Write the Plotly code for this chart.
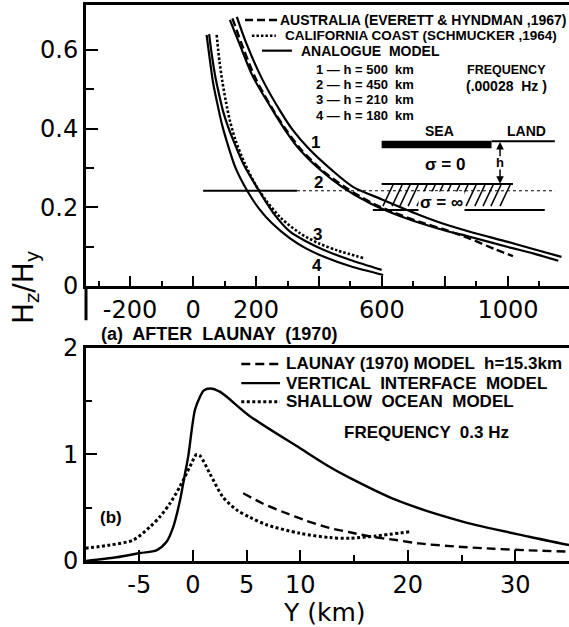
import plotly.graph_objects as go

# ---------------- data: panel (a) ----------------
c1_x = [139, 170, 220, 278, 317, 371, 440, 508, 600, 721, 800, 879, 1000, 1080, 1170]
c1_y = [0.684, 0.615, 0.525, 0.443, 0.396, 0.346, 0.295, 0.252, 0.22, 0.18, 0.157, 0.138, 0.112, 0.094, 0.074]
c2_x = [117, 149, 190, 254, 292, 333, 400, 473, 562, 640, 721, 800, 879, 1000, 1080, 1160]
c2_y = [0.676, 0.612, 0.532, 0.445, 0.397, 0.352, 0.298, 0.252, 0.21, 0.183, 0.16, 0.141, 0.125, 0.099, 0.083, 0.064]
aus_x = [125, 160, 200, 260, 300, 345, 410, 485, 570, 640, 720, 800, 880, 960, 1016]
aus_y = [0.68, 0.603, 0.525, 0.44, 0.392, 0.345, 0.294, 0.25, 0.21, 0.186, 0.163, 0.143, 0.12, 0.093, 0.076]
c3_x = [51, 60, 70, 79, 95, 111, 128, 160, 215, 260, 308, 360, 414, 500, 599]
c3_y = [0.64, 0.585, 0.535, 0.5, 0.445, 0.405, 0.37, 0.31, 0.235, 0.18, 0.138, 0.113, 0.092, 0.066, 0.041]
c4_x = [43, 55, 64, 78, 92, 110, 135, 172, 210, 250, 308, 360, 414, 500, 604]
c4_y = [0.638, 0.565, 0.515, 0.46, 0.41, 0.36, 0.30, 0.242, 0.196, 0.16, 0.121, 0.095, 0.075, 0.05, 0.028]
cal_x = [75, 84, 93, 104, 117, 135, 165, 200, 234, 280, 340, 400, 460, 540]
cal_y = [0.638, 0.57, 0.52, 0.47, 0.42, 0.37, 0.31, 0.255, 0.215, 0.172, 0.134, 0.108, 0.09, 0.071]

top_xticks = [-200, 0, 200, 600, 1000]
top_xtext = ["-200", "0", "200", "600", "1000"]
top_xticks_unlabelled = [400, 800]
top_yticks = [0, 0.2, 0.4, 0.6]
top_ytext = ["0", "0.2", "0.4", "0.6"]

# ---------------- data: panel (b) ----------------
vi_x = [-10, -7.1, -4.9, -3.4, -2.45, -1.83, -1.2, -0.74, -0.44, 0.19, 0.65, 1.0, 1.58, 2.5, 5.3, 9.95, 12.7, 14.6, 18.9, 25.1, 31.3, 35]
vi_y = [0.0, 0.035, 0.075, 0.10, 0.18, 0.32, 0.57, 0.82, 0.98, 1.42, 1.54, 1.6, 1.62, 1.59, 1.36, 1.06, 0.885, 0.78, 0.573, 0.37, 0.228, 0.15]
so_x = [-10, -7.7, -5.55, -4, -3.07, -2.14, -1.2, -0.28, 0.34, 0.65, 1.58, 2.8, 4.07, 5.3, 6.86, 9.95, 12.7, 14.6, 17, 20.2]
so_y = [0.12, 0.15, 0.197, 0.32, 0.416, 0.54, 0.70, 0.885, 1.0, 0.99, 0.82, 0.60, 0.48, 0.41, 0.34, 0.26, 0.22, 0.213, 0.235, 0.275]
la_x = [4.68, 6.5, 8.4, 10.5, 12.7, 14.6, 16.5, 18.9, 21, 25.1, 28, 31.3, 35]
la_y = [0.636, 0.54, 0.46, 0.38, 0.31, 0.27, 0.23, 0.197, 0.165, 0.132, 0.115, 0.1, 0.088]

bot_xticks = [-5, 0, 5, 10, 20, 30]
bot_yticks = [0, 1, 2]

# inset hatch positions (panel a data units)
hatch_x = [603, 632, 657, 683, 711, 737, 762, 787, 815, 841, 867, 895, 921, 946, 975]

BLACK = "black"
TICKFONT = dict(family="DejaVu Sans", size=24, color=BLACK)
LBL = "Liberation Sans"

fig = go.Figure()

def add_line(x, y, xa, ya, dash="solid", width=2.2):
    fig.add_trace(go.Scatter(x=x, y=y, mode="lines", xaxis=xa, yaxis=ya,
                             line=dict(color=BLACK, width=width, dash=dash, shape="spline", smoothing=0.8),
                             showlegend=False, hoverinfo="skip"))

# panel (a)
add_line(c1_x, c1_y, "x", "y")
add_line(c2_x, c2_y, "x", "y")
add_line(aus_x, aus_y, "x", "y", dash="8px,4px", width=2.4)
add_line(c3_x, c3_y, "x", "y")
add_line(c4_x, c4_y, "x", "y")
add_line(cal_x, cal_y, "x", "y", dash="2.5px,2px", width=2.6)

# panel (b)
add_line(vi_x, vi_y, "x2", "y2", width=2.4)
add_line(so_x, so_y, "x2", "y2", dash="3px,2.5px", width=3)
add_line(la_x, la_y, "x2", "y2", dash="9px,5px", width=2.4)

shapes = []
def seg(x0, y0, x1, y1, xr="x", yr="y", width=2, dash="solid"):
    shapes.append(dict(type="line", x0=x0, y0=y0, x1=x1, y1=y1, xref=xr, yref=yr,
                       line=dict(color=BLACK, width=width, dash=dash)))

# long unlabelled ticks on panel (a) x axis
for tv in top_xticks_unlabelled:
    seg(tv, 0, tv, 0.0254, width=2)

# legend samples panel (a)
seg(165, 0.676, 267, 0.676, dash="8px,4px", width=2.4)
seg(187, 0.636, 263, 0.636, dash="2.5px,2px", width=2.6)
seg(219, 0.598, 314, 0.598, width=2.2)

# reference horizontal line
seg(32, 0.242, 330, 0.242, width=2.2)
seg(330, 0.242, 1150, 0.242, width=1, dash="3px,3px")

# inset diagram
shapes.append(dict(type="rect", x0=599, x1=948, y0=0.350, y1=0.369, xref="x", yref="y",
                   fillcolor=BLACK, line=dict(width=0)))
seg(948, 0.368, 1149, 0.368, width=2)
seg(599, 0.259, 1016, 0.259, width=2)
seg(571, 0.193, 1117, 0.193, width=2)
for hx in hatch_x:
    seg(hx, 0.203, hx + 32, 0.257, width=1.5)

# h dimension arrow
seg(975, 0.355, 975, 0.330, width=1.5)
seg(975, 0.296, 975, 0.271, width=1.5)
shapes.append(dict(type="path", xref="x", yref="y", path="M 975 0.366 L 963 0.347 L 987 0.347 Z",
                   fillcolor=BLACK, line=dict(width=0)))
shapes.append(dict(type="path", xref="x", yref="y", path="M 975 0.260 L 963 0.279 L 987 0.279 Z",
                   fillcolor=BLACK, line=dict(width=0)))

# bottom legend samples
seg(4.5, 1.85, 8.1, 1.85, "x2", "y2", dash="9px,5px", width=2.4)
seg(4.5, 1.67, 8.1, 1.67, "x2", "y2", width=2.4)
seg(4.5, 1.496, 8.1, 1.496, "x2", "y2", dash="3px,2.5px", width=3)

# left axis extension between panels
seg(0, 0.4946, 0, 0.433, "paper", "paper", width=3)

anns = []
def txt(x, y, s, size=12, xr="x", yr="y", xanchor="left", bold=True, family=LBL, bg=None, **kw):
    d = dict(x=x, y=y, xref=xr, yref=yr, text=(f"<b>{s}</b>" if bold else s), showarrow=False,
             xanchor=xanchor, yanchor="middle", font=dict(family=family, size=size, color=BLACK))
    if bg:
        d["bgcolor"] = bg
    d.update(kw)
    anns.append(d)

txt(270, 0.676, "AUSTRALIA (EVERETT &amp; HYNDMAN ,1967)", 14)
txt(286, 0.636, "CALIFORNIA COAST (SCHMUCKER ,1964)", 13.5)
txt(335, 0.598, "ANALOGUE  MODEL", 14)
txt(385, 0.549, "1 — h = 500  km", 13)
txt(385, 0.512, "2 — h = 450  km", 13)
txt(385, 0.474, "3 — h = 210  km", 13)
txt(385, 0.432, "4 — h = 180  km", 13)
txt(997, 0.549, "FREQUENCY", 12.5, xanchor="center")
txt(997, 0.509, "(.00028  Hz )", 14, xanchor="center")
txt(784, 0.394, "SEA", 14, xanchor="center")
txt(1060, 0.394, "LAND", 14, xanchor="center")
txt(800, 0.308, "σ = 0", 17, xanchor="center")
txt(790, 0.212, "σ = ∞", 17, xanchor="center", bg="white")
txt(975, 0.313, "h", 13, xanchor="center")
txt(390, 0.364, "1", 17, xanchor="center")
txt(397, 0.264, "2", 17, xanchor="center")
txt(394, 0.130, "3", 17, xanchor="center")
txt(394, 0.053, "4", 17, xanchor="center")

txt(0.027, 0.408, "(a)  AFTER  LAUNAY  (1970)", 18, xr="paper", yr="paper")

# panel (b) texts
txt(8.5, 1.85, "LAUNAY (1970) MODEL  h=15.3km", 17, xr="x2", yr="y2")
txt(8.5, 1.67, "VERTICAL  INTERFACE  MODEL", 17, xr="x2", yr="y2")
txt(8.5, 1.496, "SHALLOW  OCEAN  MODEL", 17, xr="x2", yr="y2")
txt(21.7, 1.21, "FREQUENCY  0.3 Hz", 17, xr="x2", yr="y2", xanchor="center")
txt(-7.6, 0.41, "(b)", 17, xr="x2", yr="y2", xanchor="center")

# axis titles
anns.append(dict(x=-0.124, y=0.493, xref="paper", yref="paper", text="H<sub>z</sub>/H<sub>y</sub>",
                 textangle=-90, showarrow=False, xanchor="center", yanchor="middle",
                 font=dict(family="DejaVu Sans", size=28, color=BLACK)))
anns.append(dict(x=0.493, y=-0.0935, xref="paper", yref="paper", text="Y (km)",
                 showarrow=False, xanchor="center", yanchor="middle",
                 font=dict(family="DejaVu Sans", size=25, color=BLACK)))

axis_common = dict(showgrid=False, zeroline=False, showline=True, linecolor=BLACK, linewidth=3,
                   ticks="inside", tickcolor=BLACK, tickwidth=2, tickfont=TICKFONT, automargin=False)

fig.update_layout(
    template="none",
    width=569, height=627,
    margin=dict(l=86, r=0, t=5, b=66, pad=0),
    paper_bgcolor="white", plot_bgcolor="white",
    font=dict(family="DejaVu Sans", color=BLACK),
    showlegend=False,
    shapes=shapes, annotations=anns,
    xaxis=dict(domain=[0, 1], anchor="y", range=[-340, 1194], mirror=True,
               tickvals=top_xticks, ticktext=top_xtext, ticklen=10,
               minor=dict(tickvals=[-300, -100, 100, 300, 500, 700, 900, 1100], ticklen=5,
                          ticks="inside", tickcolor=BLACK, tickwidth=2),
               **axis_common),
    yaxis=dict(domain=[0.4946, 1], anchor="x", range=[0, 0.714],
               tickvals=top_yticks, ticktext=top_ytext, ticklen=12,
               minor=dict(tickvals=[0.1, 0.3, 0.5], ticklen=8, ticks="inside", tickcolor=BLACK, tickwidth=2),
               **axis_common),
    xaxis2=dict(domain=[0, 1], anchor="y2", range=[-9.95, 35], mirror=True,
                tickvals=bot_xticks, ticktext=[str(v) for v in bot_xticks], ticklen=11,
                minor=dict(tickvals=[15, 25], ticklen=6, ticks="inside", tickcolor=BLACK, tickwidth=2),
                **axis_common),
    yaxis2=dict(domain=[0, 0.3831], anchor="x2", range=[0, 2],
                tickvals=bot_yticks, ticktext=[str(v) for v in bot_yticks], ticklen=11,
                minor=dict(tickvals=[0.5, 1.5], ticklen=6, ticks="inside", tickcolor=BLACK, tickwidth=2),
                **axis_common),
)

fig.write_html("out.html")
